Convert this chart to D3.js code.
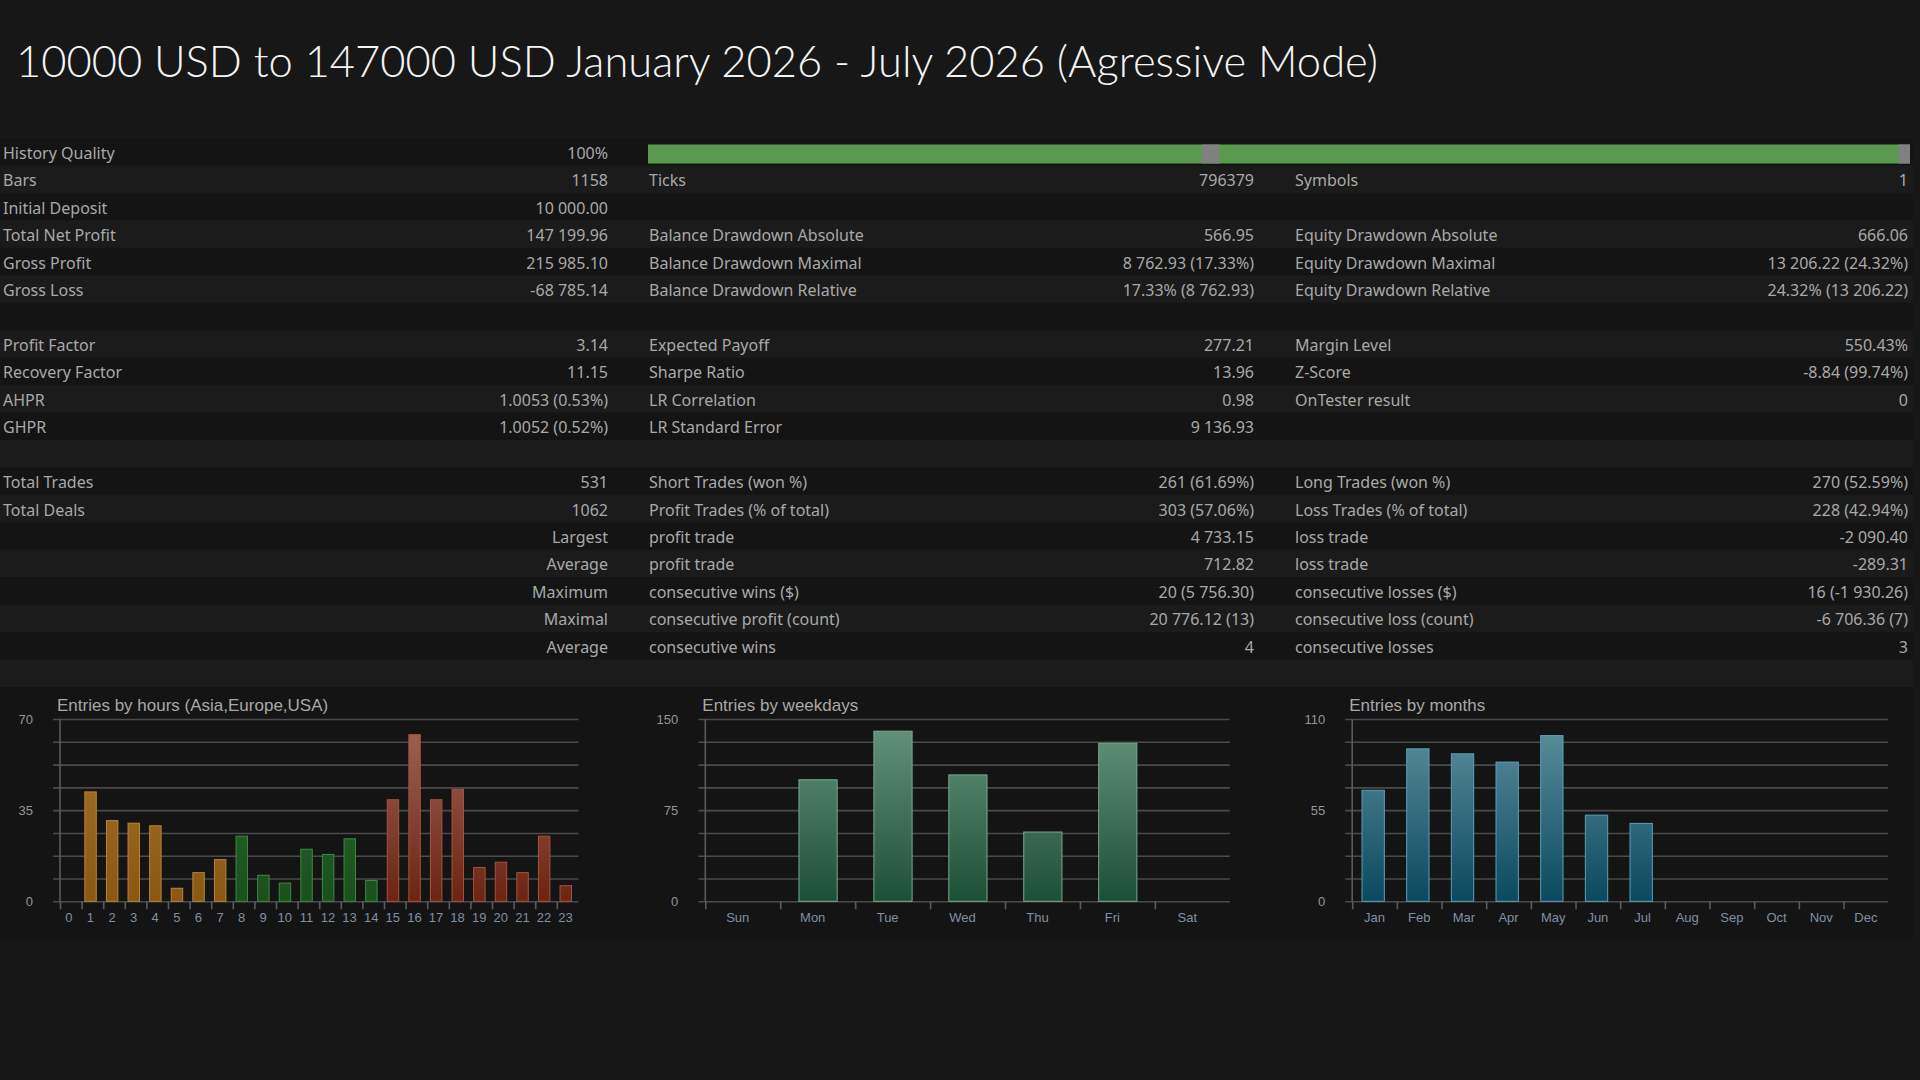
<!DOCTYPE html>
<html>
<head>
<meta charset="utf-8">
<script src="https://cdn.jsdelivr.net/npm/d3@7"></script>
<style>
  body { margin: 0; background: #171717; }
  svg { display: block; }
</style>
</head>
<body>
<svg id="report" width="1920" height="1080"></svg>
<script>
var reportTitle = "10000 USD to 147000 USD January 2026 - July 2026 (Agressive Mode)";

// report table, one entry per row
var col1Labels = ["History Quality", "Bars", "Initial Deposit", "Total Net Profit", "Gross Profit", "Gross Loss", "",
    "Profit Factor", "Recovery Factor", "AHPR", "GHPR", "",
    "Total Trades", "Total Deals", "", "", "", "", ""];
var col1Values = ["100%", "1158", "10 000.00", "147 199.96", "215 985.10", "-68 785.14", "",
    "3.14", "11.15", "1.0053 (0.53%)", "1.0052 (0.52%)", "",
    "531", "1062", "Largest", "Average", "Maximum", "Maximal", "Average"];
var col2Labels = ["", "Ticks", "", "Balance Drawdown Absolute", "Balance Drawdown Maximal", "Balance Drawdown Relative", "",
    "Expected Payoff", "Sharpe Ratio", "LR Correlation", "LR Standard Error", "",
    "Short Trades (won %)", "Profit Trades (% of total)", "profit trade", "profit trade",
    "consecutive wins ($)", "consecutive profit (count)", "consecutive wins"];
var col2Values = ["", "796379", "", "566.95", "8 762.93 (17.33%)", "17.33% (8 762.93)", "",
    "277.21", "13.96", "0.98", "9 136.93", "",
    "261 (61.69%)", "303 (57.06%)", "4 733.15", "712.82", "20 (5 756.30)", "20 776.12 (13)", "4"];
var col3Labels = ["", "Symbols", "", "Equity Drawdown Absolute", "Equity Drawdown Maximal", "Equity Drawdown Relative", "",
    "Margin Level", "Z-Score", "OnTester result", "", "",
    "Long Trades (won %)", "Loss Trades (% of total)", "loss trade", "loss trade",
    "consecutive losses ($)", "consecutive loss (count)", "consecutive losses"];
var col3Values = ["", "1", "", "666.06", "13 206.22 (24.32%)", "24.32% (13 206.22)", "",
    "550.43%", "-8.84 (99.74%)", "0", "", "",
    "270 (52.59%)", "228 (42.94%)", "-2 090.40", "-289.31", "16 (-1 930.26)", "-6 706.36 (7)", "3"];

// history quality strip
var historyStart = "2026-01-01";
var historyEnd = "2026-08-01";
var historyGaps = [["2026-04-04", "2026-04-07"], ["2026-07-30", "2026-08-01"]];

// entries by hours
var hourCategories = ["0", "1", "2", "3", "4", "5", "6", "7", "8", "9", "10", "11",
    "12", "13", "14", "15", "16", "17", "18", "19", "20", "21", "22", "23"];
var hourEntries = [0, 42, 31, 30, 29, 5, 11, 16, 25, 10, 7, 20, 18, 24, 8, 39, 64, 39, 43, 13, 15, 11, 25, 6];
var hourSessions = ["asia", "asia", "asia", "asia", "asia", "asia", "asia", "asia",
    "europe", "europe", "europe", "europe", "europe", "europe", "europe",
    "usa", "usa", "usa", "usa", "usa", "usa", "usa", "usa", "usa"];
var hourTicks = [0, 35, 70];

// entries by weekdays
var weekdayCategories = ["Sun", "Mon", "Tue", "Wed", "Thu", "Fri", "Sat"];
var weekdayEntries = [0, 100, 140, 104, 57, 130, 0];
var weekdayTicks = [0, 75, 150];

// entries by months
var monthCategories = ["Jan", "Feb", "Mar", "Apr", "May", "Jun", "Jul", "Aug", "Sep", "Oct", "Nov", "Dec"];
var monthEntries = [67, 92, 89, 84, 100, 52, 47, 0, 0, 0, 0, 0];
var monthTicks = [0, 55, 110];

var barColors = {
    asia:    { top: "#a4732f", bottom: "#8a5812", line: "#b88438" },
    europe:  { top: "#2d6e32", bottom: "#1a4f1e", line: "#3b8a40" },
    usa:     { top: "#a06458", bottom: "#6c2412", line: "#a9513f" },
    weekday: { top: "#66957e", bottom: "#1c5035", line: "#75aa8c" },
    month:   { top: "#5e919f", bottom: "#0a495e", line: "#5aa1b8" }
};

var svg = d3.select("#report");
var defs = svg.append("defs");

// ---- title ----
var titleText = svg.append("text")
    .attr("x", 16)
    .attr("y", 77)
    .attr("fill", "#f4f4f4")
    .style("font-family", "Lato, 'Noto Sans', sans-serif")
    .style("font-weight", 300)
    .style("font-size", "40px")
    .text(reportTitle);
var tlen = titleText.node().getComputedTextLength();
var fit = 40 * 1362 / tlen;
if (fit > 34 && fit < 46) titleText.style("font-size", fit + "px");

// ---- table ----
var rowY = d3.scaleBand()
    .domain(d3.range(col1Labels.length + 1))
    .range([138, 687]);

var tableG = svg.append("g");
tableG.selectAll("rect.row")
    .data(rowY.domain())
    .enter()
    .append("rect")
    .attr("class", "row")
    .attr("x", 0)
    .attr("y", function(d) { return rowY(d); })
    .attr("width", 1913)
    .attr("height", rowY.bandwidth() + 0.5)
    .attr("fill", function(d) { return d % 2 ? "#1b1b1b" : "#141414"; });

// chart panel under the table
svg.append("rect")
    .attr("x", 0)
    .attr("y", 687)
    .attr("width", 1913)
    .attr("height", 253)
    .attr("fill", "#141414");

var columns = [
    { labels: col1Labels, values: col1Values, lx: 3, vx: 608 },
    { labels: col2Labels, values: col2Values, lx: 649, vx: 1254 },
    { labels: col3Labels, values: col3Values, lx: 1295, vx: 1908 }
];

columns.forEach(function(col) {
    var g = tableG.append("g")
        .style("font-family", "'Noto Sans', 'Open Sans', sans-serif")
        .style("font-size", "16px")
        .attr("fill", "#a9a9a9");
    g.selectAll("text.lbl")
        .data(col.labels)
        .enter()
        .append("text")
        .attr("class", "lbl")
        .attr("x", col.lx)
        .attr("y", function(d, i) { return rowY(i) + rowY.bandwidth() / 2 + 1; })
        .attr("dominant-baseline", "central")
        .text(function(d) { return d; });
    g.selectAll("text.val")
        .data(col.values)
        .enter()
        .append("text")
        .attr("class", "val")
        .attr("x", col.vx)
        .attr("text-anchor", "end")
        .attr("y", function(d, i) { return rowY(i) + rowY.bandwidth() / 2 + 1; })
        .attr("dominant-baseline", "central")
        .text(function(d) { return d; });
});

// history quality strip
var parseDay = d3.timeParse("%Y-%m-%d");
var hx = d3.scaleTime()
    .domain([parseDay(historyStart), parseDay(historyEnd)])
    .range([648, 1910]);
var hy = rowY(0) + 6.5;
tableG.append("rect")
    .attr("x", hx.range()[0])
    .attr("y", hy)
    .attr("width", hx.range()[1] - hx.range()[0])
    .attr("height", 19)
    .attr("fill", "#5a9a4e");
tableG.selectAll("rect.gap")
    .data(historyGaps)
    .enter()
    .append("rect")
    .attr("class", "gap")
    .attr("x", function(d) { return hx(parseDay(d[0])); })
    .attr("y", hy)
    .attr("width", function(d) { return hx(parseDay(d[1])) - hx(parseDay(d[0])); })
    .attr("height", 19)
    .attr("fill", "#808080");

// ---- bar charts ----
var plotTop = 719, plotZero = 901.3;

function addGradient(id, c) {
    var gr = defs.append("linearGradient")
        .attr("id", id)
        .attr("gradientUnits", "userSpaceOnUse")
        .attr("x1", 0).attr("x2", 0)
        .attr("y1", plotTop).attr("y2", plotZero);
    gr.append("stop").attr("offset", "0%").attr("stop-color", c.top);
    gr.append("stop").attr("offset", "100%").attr("stop-color", c.bottom);
}
Object.keys(barColors).forEach(function(k) { addGradient("grad-" + k, barColors[k]); });

function drawChart(cfg) {
    var n = cfg.categories.length;
    var max = cfg.ticks[cfg.ticks.length - 1];
    var g = svg.append("g");

    var y = d3.scaleLinear().domain([0, max]).range([plotZero, plotTop]);
    var x = d3.scaleBand().domain(cfg.categories).range([cfg.x0, cfg.x1]);
    var edge = d3.scaleLinear().domain([0, n]).range([cfg.x0, cfg.x1]);
    var bw = x.bandwidth();

    // grid + y labels
    var yAxis = g.append("g")
        .attr("transform", "translate(" + cfg.x0 + ",0)")
        .call(d3.axisLeft(y)
            .tickValues(d3.range(9).map(function(i) { return max * i / 8; }))
            .tickSize(-(cfg.x1 - cfg.x0))
            .tickSizeOuter(0)
            .tickPadding(27)
            .tickFormat(function(d, i) { return i % 4 === 0 ? d : ""; }));
    yAxis.select(".domain").remove();
    yAxis.selectAll(".tick line")
        .attr("x1", -7)
        .attr("stroke", "#4a4a4a")
        .attr("stroke-width", 1.6);
    yAxis.selectAll(".tick text")
        .attr("fill", "#969696")
        .style("font-family", "'Liberation Sans', Arial, sans-serif")
        .style("font-size", "13px");

    // vertical axis line
    g.append("line")
        .attr("x1", cfg.x0).attr("x2", cfg.x0)
        .attr("y1", plotTop).attr("y2", plotZero)
        .attr("stroke", "#5a5a5a")
        .attr("stroke-width", 1.6);

    // x tick marks at band edges
    var xTicks = g.append("g")
        .attr("transform", "translate(0," + plotZero + ")")
        .call(d3.axisBottom(edge)
            .tickValues(d3.range(n))
            .tickSize(8)
            .tickSizeOuter(0)
            .tickFormat(""));
    xTicks.select(".domain").remove();
    xTicks.selectAll(".tick line").attr("stroke", "#5a5a5a").attr("stroke-width", 1.6);

    // x labels
    var xLabels = g.append("g")
        .attr("transform", "translate(0," + plotZero + ")")
        .call(d3.axisBottom(x).tickSize(0).tickPadding(11));
    xLabels.select(".domain").remove();
    xLabels.selectAll(".tick text")
        .attr("dx", cfg.labelShift)
        .attr("fill", "#8090a4")
        .style("font-family", "'Liberation Sans', Arial, sans-serif")
        .style("font-size", "13px");

    // bars
    var data = cfg.categories.map(function(c, i) {
        return { cat: c, value: cfg.values[i], group: cfg.group(i) };
    }).filter(function(d) { return d.value > 0; });

    g.selectAll("rect.bar")
        .data(data)
        .enter()
        .append("rect")
        .attr("class", "bar")
        .attr("x", function(d) { return x(d.cat) + cfg.gap * bw; })
        .attr("y", function(d) { return y(d.value); })
        .attr("width", cfg.widthFrac * bw)
        .attr("height", function(d) { return plotZero - y(d.value); })
        .attr("fill", function(d) { return "url(#grad-" + d.group + ")"; })
        .attr("stroke", function(d) { return barColors[d.group].line; })
        .attr("stroke-width", 1);

    // title
    g.append("text")
        .attr("x", cfg.x0 - 3)
        .attr("y", 705)
        .attr("dominant-baseline", "central")
        .attr("fill", "#a8a8a8")
        .style("font-family", "'Liberation Sans', Arial, sans-serif")
        .style("font-size", "17px")
        .text(cfg.title);
}

drawChart({
    title: "Entries by hours (Asia,Europe,USA)",
    categories: hourCategories, values: hourEntries, ticks: hourTicks,
    group: function(i) { return hourSessions[i]; },
    x0: 60, x1: 578.4, gap: 0.15, widthFrac: 0.53, labelShift: -2
});
drawChart({
    title: "Entries by weekdays",
    categories: weekdayCategories, values: weekdayEntries, ticks: weekdayTicks,
    group: function() { return "weekday"; },
    x0: 705.3, x1: 1229.8, gap: 0.25, widthFrac: 0.51, labelShift: -5
});
drawChart({
    title: "Entries by months",
    categories: monthCategories, values: monthEntries, ticks: monthTicks,
    group: function() { return "month"; },
    x0: 1352.2, x1: 1888.2, gap: 0.22, widthFrac: 0.5, labelShift: 0
});
</script>
</body>
</html>
